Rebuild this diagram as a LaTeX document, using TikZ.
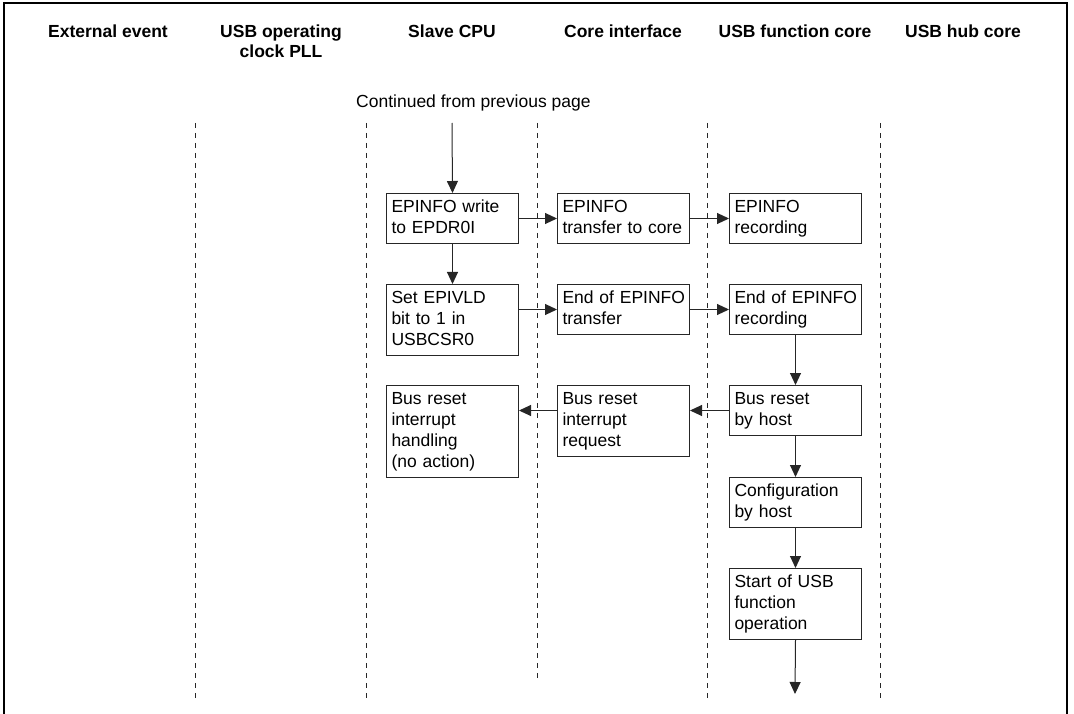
\documentclass[tikz,border=0pt]{standalone}
\usepackage{fontspec}
\setmainfont{Liberation Sans}
\usetikzlibrary{arrows.meta}
\newcommand{\boxfont}{\fontsize{17.5}{21}\selectfont}
\newcommand{\headfont}{\fontsize{17.5}{20}\selectfont\bfseries}
\begin{document}
\begin{tikzpicture}[x=1pt,y=-1pt,
  stepbox/.style={draw=black!85,line width=1pt,anchor=north west,align=left,
    text width=127pt,inner xsep=2.5pt,inner ysep=4pt,font=\boxfont,
    execute at begin node={\leftskip=2.5pt\strut},execute at end node={\strut}},
  head/.style={font=\headfont,align=center,anchor=base},
  lane/.style={draw=black!85,line width=0.8pt,dash pattern=on 5pt off 5pt},
  flow/.style={draw=black!85,line width=1pt,-{Triangle[length=12pt,width=11pt]}}]
\useasboundingbox (0,0) rectangle (1074,714);
% frame
\draw[line width=2pt] (3.5,714) -- (3.5,3.5) -- (1067,3.5) -- (1067,714);
% headers
\node[head] (h1) at (108,38) {External event};
\node[head] (h2) at (281,58) {USB operating\\clock PLL};
\node[head] (h3) at (452,38) {Slave CPU};
\node[head] (h4) at (623,38) {Core interface};
\node[head] (h5) at (795,38) {USB function core};
\node[head] (h6) at (963,38) {USB hub core};
\node[font=\boxfont,anchor=base west,inner sep=0pt] (cont) at (356,107.5) {Continued from previous page};
% lanes
\draw[lane] (195,123) -- (195,699);
\draw[lane] (366,123) -- (366,699);
\draw[lane] (537,123) -- (537,679);
\draw[lane] (707,123) -- (707,699);
\draw[lane] (880,123) -- (880,699);
% boxes
\node[stepbox] (a1) at (386,193) {EPINFO write\\to EPDR0I};
\node[stepbox] (b1) at (557,193) {EPINFO\\transfer to core};
\node[stepbox] (c1) at (729,193) {EPINFO\\recording};
\node[stepbox] (a2) at (386,284) {Set EPIVLD\\bit to 1 in\\USBCSR0};
\node[stepbox] (b2) at (557,284) {End of EPINFO\\transfer};
\node[stepbox] (c2) at (729,284) {End of EPINFO\\recording};
\node[stepbox] (a3) at (386,385) {Bus reset\\interrupt\\handling\\(no action)};
\node[stepbox] (b3) at (557,385) {Bus reset\\interrupt\\request};
\node[stepbox] (c3) at (729,385) {Bus reset\\by host};
\node[stepbox] (c4) at (729,477) {Configuration\\by host};
\node[stepbox] (c5) at (729,568) {Start of USB\\function\\operation};
\coordinate (start) at (452,123);
\coordinate (finish) at (795,694);
% connectors
\draw[flow] (start) -- (a1.north);
\draw[flow] (a1.east) -- (b1.west);
\draw[flow] (b1.east) -- (c1.west);
\draw[flow] (a1.south) -- (a2.north);
\draw[flow] (a2.east |- b2.west) -- (b2.west);
\draw[flow] (b2.east) -- (c2.west);
\draw[flow] (c2.south) -- (c3.north);
\draw[flow] (c3.west) -- (c3.west -| b3.east);
\draw[flow] (b3.west |- c3.west) -- (c3.west -| a3.east);
\draw[flow] (c3.south) -- (c4.north);
\draw[flow] (c4.south) -- (c5.north);
\draw[flow] (c5.south) -- (finish);
\end{tikzpicture}
\end{document}
